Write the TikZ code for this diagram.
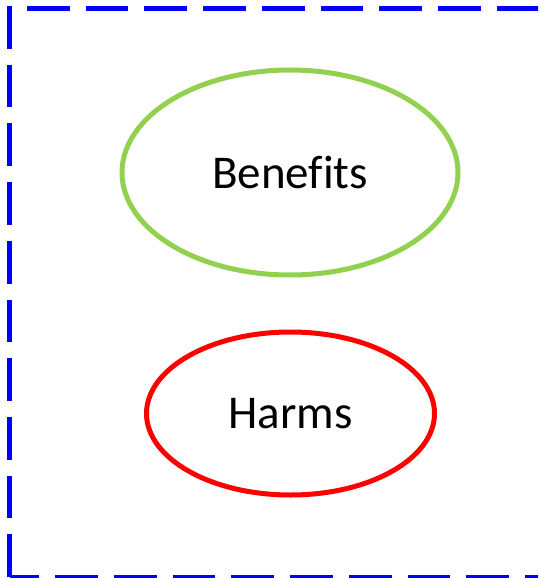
\documentclass[tikz,border=0pt]{standalone}
\usepackage{fontspec}
\setmainfont[Ligatures=NoCommon]{Carlito}
\usetikzlibrary{shapes.geometric}
\definecolor{bordblue}{HTML}{0000FF}
\definecolor{bengreen}{HTML}{92D050}
\definecolor{harmred}{HTML}{FF0000}
\tikzset{
  frame/.style={draw=bordblue, line width=5pt, dash pattern=on 42.7pt off 16pt},
  oval/.style={ellipse, line width=5pt, inner sep=0pt, font=\fontsize{47}{56}\selectfont, text=black},
}
\begin{document}
\begin{tikzpicture}[x=1pt,y=-1pt]
\useasboundingbox (0,0) rectangle (538,578);
\clip (0,0) rectangle (538,578);
\coordinate (tl) at (9.5,6);
\coordinate (bl) at (9.5,580);
\coordinate (blh) at (9.5,577.5);
\coordinate (brh) at (580,577.5);
\coordinate (tls) at (27,8.5);
\coordinate (tr) at (580,8.5);
\draw[frame] (tl) -- (bl);
\draw[frame, dash phase=12.9pt] (blh) -- (brh);
\draw[frame] (tls) -- (tr);
\node[oval, draw=bengreen, minimum width=336pt, minimum height=205pt] (ben) at (290,172.5) {Benef\kern0pt its};
\node[oval, draw=harmred, minimum width=288pt, minimum height=163pt] (harm) at (290.5,413.5) {Harms};
\end{tikzpicture}
\end{document}
